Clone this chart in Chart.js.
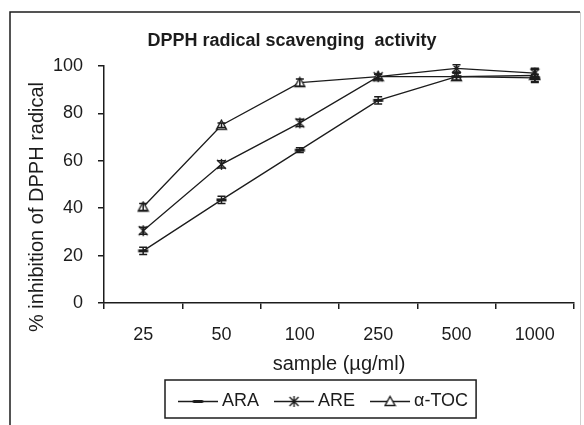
<!DOCTYPE html>
<html>
<head>
<meta charset="utf-8">
<script src="https://cdn.jsdelivr.net/npm/chart.js@4.4.1/dist/chart.umd.min.js"></script>
<style>
  html, body { margin: 0; padding: 0; background: #fff; }
  canvas { display: block; }
</style>
</head>
<body>
<canvas id="chart" width="584" height="425"></canvas>
<script>
const concentrations = ["25", "50", "100", "250", "500", "1000"];
const araValues = [22, 43.5, 64.5, 85.5, 95.5, 95];
const areValues = [30.5, 58.5, 76, 95.5, 99, 97];
const tocValues = [40.5, 75, 93, 95.5, 95.5, 96];
const araErrors = [1.5, 1.5, 1, 1.5, 1.5, 1.5];
const areErrors = [1.5, 1.5, 1.5, 1, 1.5, 1.5];
const tocErrors = [1.5, 1, 1.5, 1, 1.5, 3];
const yTicks = [0, 20, 40, 60, 80, 100];

const ink = "#1c1c1c";
const fontFamily = "'Liberation Sans', Arial, sans-serif";

// small canvas markers so the chart and the legend share the same glyphs
function makeMarker(kind) {
    const c = document.createElement("canvas");
    c.width = 13;
    c.height = 13;
    const g = c.getContext("2d");
    g.strokeStyle = ink;
    g.fillStyle = ink;
    g.lineWidth = 1.4;
    if (kind === "dash") {
        g.fillRect(1.5, 5, 10, 3);
    } else if (kind === "asterisk") {
        g.beginPath();
        g.moveTo(2, 2);
        g.lineTo(11, 11);
        g.moveTo(11, 2);
        g.lineTo(2, 11);
        g.moveTo(6.5, 1);
        g.lineTo(6.5, 12);
        g.stroke();
    } else {
        g.beginPath();
        g.moveTo(6.5, 1.5);
        g.lineTo(11.5, 10.5);
        g.lineTo(1.5, 10.5);
        g.closePath();
        g.fillStyle = "#fff";
        g.fill();
        g.stroke();
    }
    return c;
}

const errorSets = [araErrors, areErrors, tocErrors];

const decorations = {
    id: "decorations",
    afterUpdate(chart) {
        const legend = chart.legend;
        const boxes = legend.legendHitBoxes;
        if (!boxes || !boxes.length) {
            return;
        }
        const dx = 183 - boxes[0].left;
        const dy = 372.5 - legend.top;
        legend.left += dx;
        legend.right += dx;
        legend.top += dy;
        legend.bottom += dy;
        boxes.forEach((b) => {
            b.left += dx;
            b.top += dy;
        });
    },
    beforeDraw(chart) {
        const { ctx } = chart;
        ctx.save();
        // outer frame
        ctx.lineWidth = 1.5;
        ctx.strokeStyle = ink;
        ctx.beginPath();
        ctx.moveTo(10, 425);
        ctx.lineTo(10, 12);
        ctx.lineTo(580, 12);
        ctx.stroke();
        ctx.strokeStyle = "#d0d0d0";
        ctx.lineWidth = 1;
        ctx.beginPath();
        ctx.moveTo(580.5, 12);
        ctx.lineTo(580.5, 425);
        ctx.stroke();

        // legend line segments under the markers
        const boxes = chart.legend.legendHitBoxes || [];
        const fontSize = 18;
        ctx.strokeStyle = ink;
        ctx.lineWidth = 1.3;
        boxes.forEach((b) => {
            const y = b.top + fontSize / 2;
            ctx.beginPath();
            ctx.moveTo(b.left - 5, y);
            ctx.lineTo(b.left + 35, y);
            ctx.stroke();
        });
        ctx.restore();
    },
    afterDatasetsDraw(chart) {
        const { ctx, scales: { y } } = chart;
        ctx.save();
        ctx.strokeStyle = ink;
        ctx.lineWidth = 1.5;
        chart.data.datasets.forEach((ds, i) => {
            const meta = chart.getDatasetMeta(i);
            const errs = errorSets[i];
            meta.data.forEach((pt, j) => {
                const v = ds.data[j];
                const top = y.getPixelForValue(v + errs[j]);
                const bottom = y.getPixelForValue(v - errs[j]);
                ctx.beginPath();
                ctx.moveTo(pt.x, top);
                ctx.lineTo(pt.x, bottom);
                ctx.moveTo(pt.x - 4, top);
                ctx.lineTo(pt.x + 4, top);
                ctx.moveTo(pt.x - 4, bottom);
                ctx.lineTo(pt.x + 4, bottom);
                ctx.stroke();
            });
        });
        ctx.restore();
    },
    afterDraw(chart) {
        const { ctx } = chart;
        ctx.save();
        // y axis title
        ctx.translate(43, 207);
        ctx.rotate(-Math.PI / 2);
        ctx.font = "20px " + fontFamily;
        ctx.fillStyle = ink;
        ctx.textAlign = "center";
        ctx.textBaseline = "alphabetic";
        ctx.fillText("% inhibition of DPPH radical", 0, 0);
        ctx.restore();

        // legend frame
        const boxes = chart.legend.legendHitBoxes || [];
        if (boxes.length) {
            const first = boxes[0];
            const last = boxes[boxes.length - 1];
            ctx.save();
            ctx.strokeStyle = ink;
            ctx.lineWidth = 1.5;
            ctx.strokeRect(first.left - 18, 380, last.left + last.width + 8 - (first.left - 18), 38);
            ctx.restore();
        }
    },
};

const lineStyle = {
    borderColor: ink,
    borderWidth: 1.3,
    backgroundColor: ink,
    pointRadius: 6,
    pointHoverRadius: 6,
    tension: 0,
    fill: false,
};

new Chart(document.getElementById("chart"), {
    type: "line",
    data: {
        labels: concentrations,
        datasets: [
            { ...lineStyle, label: "ARA", data: araValues, pointStyle: makeMarker("dash") },
            { ...lineStyle, label: "ARE", data: areValues, pointStyle: makeMarker("asterisk") },
            { ...lineStyle, label: "α-TOC", data: tocValues, pointStyle: makeMarker("triangle") },
        ],
    },
    options: {
        responsive: false,
        animation: false,
        layout: { padding: { left: 10, right: 10, top: 0, bottom: 0 } },
        plugins: {
            title: {
                display: true,
                text: "DPPH radical scavenging  activity",
                color: ink,
                font: { family: fontFamily, size: 18, weight: "bold" },
                padding: { top: 30, bottom: 14.4 },
            },
            legend: {
                position: "bottom",
                maxHeight: 47,
                labels: {
                    usePointStyle: true,
                    pointStyleWidth: 30,
                    boxHeight: 12,
                    padding: 20,
                    color: ink,
                    font: { family: fontFamily, size: 18 },
                },
            },
            tooltip: { enabled: false },
        },
        scales: {
            x: {
                offset: true,
                afterFit: (scale) => { scale.height = 75; },
                grid: { offset: true, drawOnChartArea: false, drawTicks: true, tickLength: 6, color: ink, lineWidth: 1.5 },
                border: { display: true, color: ink, width: 1.5 },
                ticks: { color: ink, padding: 15, font: { family: fontFamily, size: 18 } },
                title: {
                    display: true,
                    text: "sample (µg/ml)",
                    color: ink,
                    font: { family: fontFamily, size: 20 },
                    padding: { top: 0, bottom: 2 },
                },
            },
            y: {
                min: 0,
                max: 100,
                afterFit: (scale) => { scale.width = 94; },
                afterBuildTicks: (scale) => { scale.ticks = yTicks.map((v) => ({ value: v })); },
                grid: { drawOnChartArea: false, drawTicks: true, tickLength: 6, color: ink, lineWidth: 1.5 },
                border: { display: true, color: ink, width: 1.5 },
                ticks: { color: ink, padding: 15, font: { family: fontFamily, size: 18 } },
            },
        },
    },
    plugins: [decorations],
});
</script>
</body>
</html>
